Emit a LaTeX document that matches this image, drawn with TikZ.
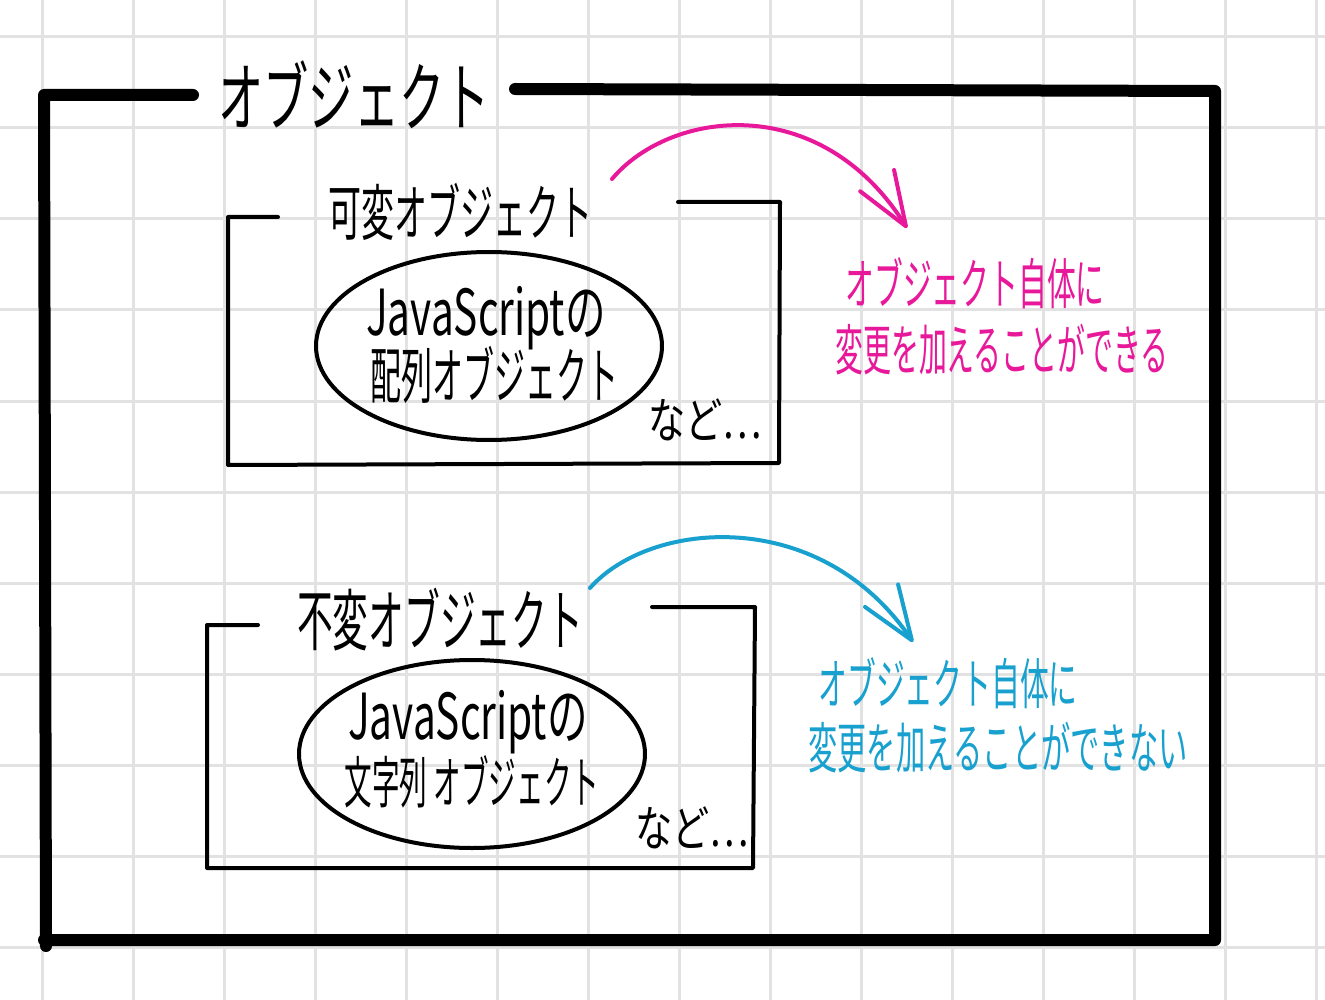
\documentclass[tikz,border=0pt]{standalone}
\usepackage{fontspec}
\newfontfamily\jp{Noto Sans CJK JP}
\usetikzlibrary{shapes.geometric,arrows.meta}
\definecolor{gridc}{HTML}{E2E2E2}
\definecolor{pinkc}{HTML}{E8189A}
\definecolor{bluec}{HTML}{18A0CF}
\newcommand\sqz[2]{\scalebox{#1}[1.22]{#2}}
\begin{document}
\begin{tikzpicture}[x=1pt,y=-1pt,
  gridline/.style={gridc,line width=3pt},
  frame/.style={line width=12pt,line cap=round,line join=round},
  box/.style={line width=4pt,line cap=round,line join=round},
  oval/.style={draw,ellipse,line width=4pt,minimum width=346pt,minimum height=188pt,inner sep=0pt},
  txt/.style={inner sep=0pt,anchor=center},
  curvearrow/.style={line width=4pt,line cap=round,-{Straight Barb[length=54pt,width=40pt,round]}}]
\useasboundingbox (0,0) rectangle (1325,1000);
\fill[white] (0,0) rectangle (1325,1000);
\foreach \i in {0,...,14} \draw[gridline] ({42+91*\i},0) -- ({42+91*\i},1000);
\foreach \j in {0,...,10} \draw[gridline] (0,{37+91*\j}) -- (1325,{37+91*\j});

% outer frame
\draw[frame] (193,95) -- (44,95) -- (46,946);
\draw[frame] (44,940) -- (1215,940) -- (1215,91) -- (515,89);
\node[txt,font=\jp\fontsize{62}{62}\selectfont] (title) at (354,95) {\sqz{0.73}{オブジェクト}};

% mutable box
\draw[box] (278,217) -- (228,217) -- (228,465) -- (779,463) -- (780,202) -- (678,202);
\node[txt,font=\jp\fontsize{50}{50}\selectfont] (mut) at (460,212) {\sqz{0.66}{可変オブジェクト}};
\node[oval] (e1) at (489,346) {};
\node[txt,font=\jp\fontsize{52}{52}\selectfont] (js1) at (486,318) {\sqz{0.78}{JavaScriptの}};
\node[txt,font=\jp\fontsize{50}{50}\selectfont] (arr) at (494,375) {\sqz{0.62}{配列オブジェクト}};
\node[txt,font=\jp\fontsize{40}{40}\selectfont] (etc1) at (705,420) {\sqz{0.93}{など…}};

% immutable box
\draw[box] (258,625) -- (207,625) -- (207,868) -- (753,868) -- (755,607) -- (652,607);
\node[txt,font=\jp\fontsize{55}{55}\selectfont] (imm) at (440,620) {\sqz{0.65}{不変オブジェクト}};
\node[oval] (e2) at (472,754) {};
\node[txt,font=\jp\fontsize{52}{52}\selectfont] (js2) at (468,722) {\sqz{0.78}{JavaScriptの}};
\node[txt,font=\jp\fontsize{46}{46}\selectfont] (str) at (472,782) {\sqz{0.6}{文字列 オブジェクト}};
\node[txt,font=\jp\fontsize{40}{40}\selectfont] (etc2) at (692,828) {\sqz{0.93}{など…}};

% pink note
\node[txt,pinkc,font=\jp\fontsize{45}{45}\selectfont] (pn1) at (975,283) {\sqz{0.64}{オブジェクト自体に}};
\node[txt,pinkc,font=\jp\fontsize{45}{45}\selectfont] (pn2) at (1002,350) {\sqz{0.62}{変更を加えることができる}};
\coordinate (p1s) at (612,179);
\coordinate (p1e) at (907,228);
\draw[curvearrow,pinkc] (p1s) .. controls (670,110) and (820,90) .. (p1e);

% blue note
\node[txt,bluec,font=\jp\fontsize{45}{45}\selectfont] (bn1) at (948,683) {\sqz{0.64}{オブジェクト自体に}};
\node[txt,bluec,font=\jp\fontsize{45}{45}\selectfont] (bn2) at (998,748) {\sqz{0.65}{変更を加えることができない}};
\coordinate (b1s) at (590,588);
\coordinate (b1e) at (913,642);
\draw[curvearrow,bluec] (b1s) .. controls (650,520) and (820,505) .. (b1e);
\end{tikzpicture}
\end{document}
